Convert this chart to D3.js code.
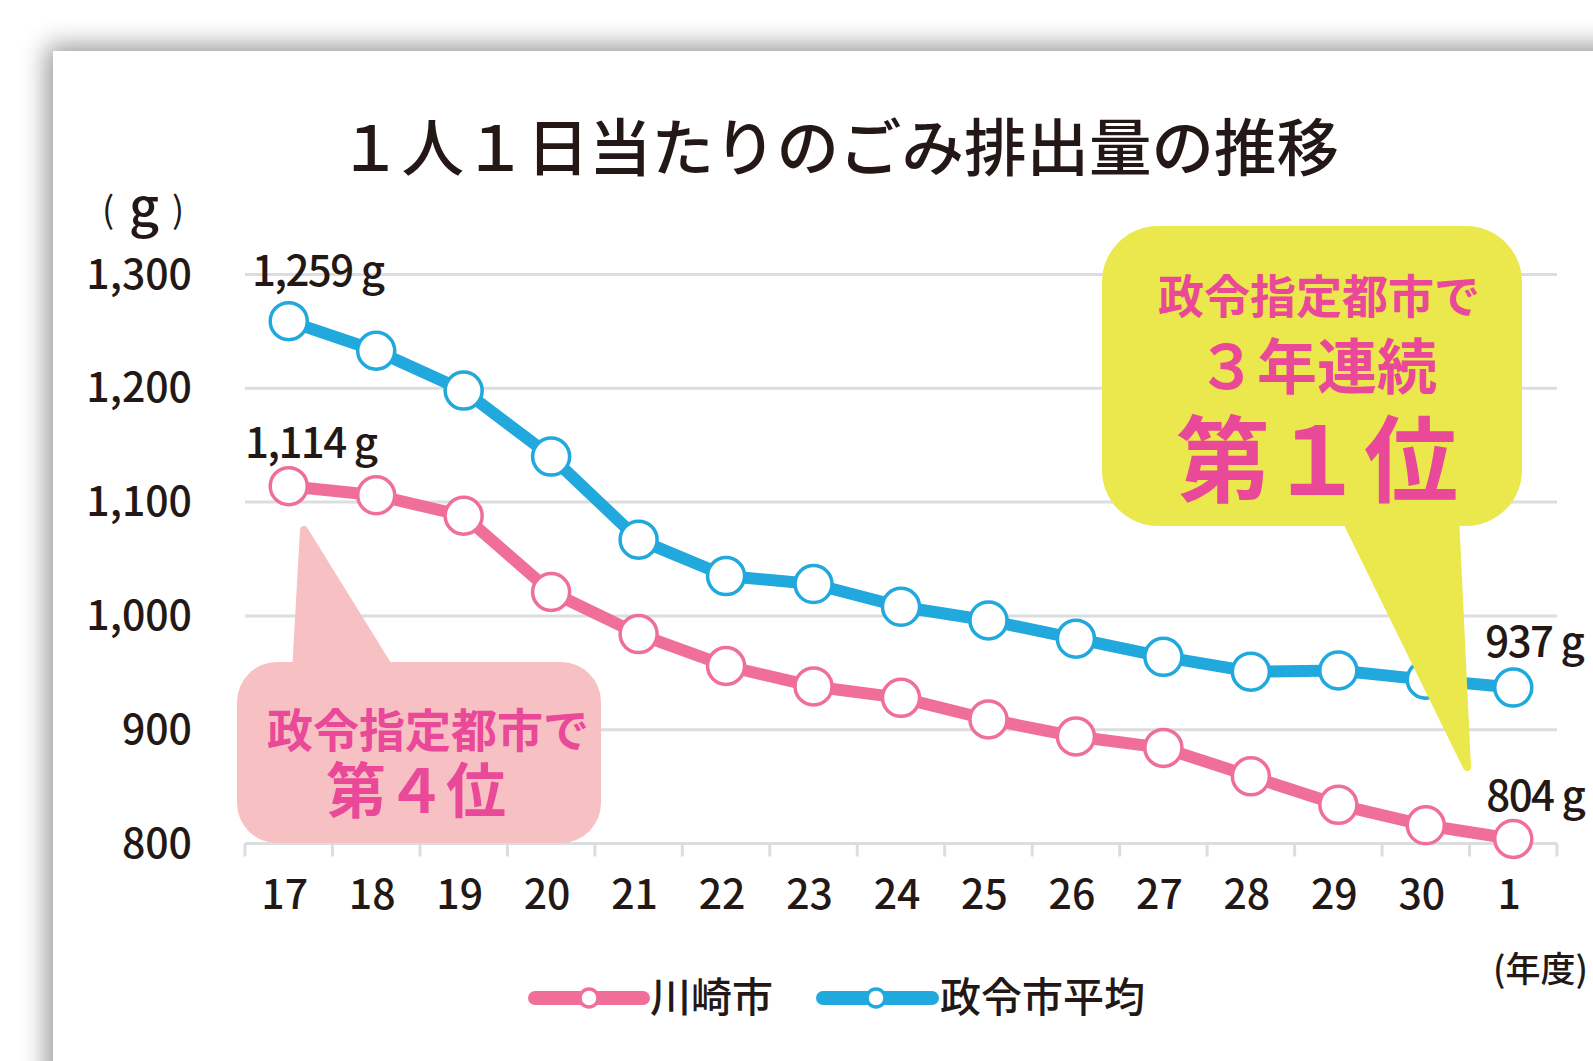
<!DOCTYPE html>
<html lang="ja">
<head>
<meta charset="UTF-8">
<title>1人1日当たりのごみ排出量の推移</title>
<script src="https://d3js.org/d3.v7.min.js"></script>
<style>
  body { margin: 0; background: #fff; overflow: hidden; }
  svg { display: block; font-family: "Noto Sans CJK JP", "Noto Sans", sans-serif; }
</style>
</head>
<body>
<svg></svg>
<script>
const years = ["17", "18", "19", "20", "21", "22", "23", "24", "25", "26", "27", "28", "29", "30", "1"];
const kawasaki = [1114, 1106, 1088, 1021, 984, 956, 938, 928, 909, 894, 884, 859, 834, 816, 804];
const cityAverage = [1259, 1233, 1198, 1140, 1067, 1035, 1028, 1008, 996, 980, 964, 951, 952, 944, 937];
const yTicks = [800, 900, 1000, 1100, 1200, 1300];
const seriesNames = ["川崎市", "政令市平均"];

const W = 1593, H = 1061;
const pink = "#f06f99", blue = "#21a8dd", grid = "#dcdddf";
const textPink = "#ea4898";
const ink = "#231815";
const nudge = -4; // Noto CJK "central" sits a little low

const svg = d3.select("svg").attr("width", W).attr("height", H);

const defs = svg.append("defs");
const f = defs.append("filter").attr("id", "shadow")
    .attr("x", "-10%").attr("y", "-10%").attr("width", "120%").attr("height", "120%");
f.append("feDropShadow").attr("dx", -6).attr("dy", -5).attr("stdDeviation", 13)
    .attr("flood-color", "#000").attr("flood-opacity", 0.42);

// card
svg.append("rect").attr("x", 53).attr("y", 51).attr("width", 1640).attr("height", 1120)
    .attr("fill", "#fff").attr("filter", "url(#shadow)");

const x = d3.scaleBand().domain(years).range([245, 1557]);
const y = d3.scaleLinear().domain([800, 1300]).range([843.5, 274.5]);

function label(g, tx, ty, size, weight, str, anchor = "middle", fill = ink) {
    return g.append("text").attr("x", tx).attr("y", ty + nudge).attr("text-anchor", anchor)
        .attr("dominant-baseline", "central").attr("font-size", size)
        .attr("font-weight", weight).attr("fill", fill).text(str);
}

// title
label(svg, 839, 147, 62.5, 500, "１人１日当たりのごみ排出量の推移");

// unit
label(svg, 108, 211, 36, 400, "(");
label(svg, 144, 207, 52, 500, "g");
label(svg, 178, 211, 36, 400, ")");

// grid
svg.append("g").selectAll("line").data(yTicks).join("line")
    .attr("x1", 245).attr("x2", 1557)
    .attr("y1", d => y(d)).attr("y2", d => y(d))
    .attr("stroke", grid).attr("stroke-width", 3);

svg.append("g").selectAll("text").data(yTicks).join("text")
    .attr("x", 192).attr("y", d => y(d) + nudge).attr("text-anchor", "end")
    .attr("dominant-baseline", "central").attr("font-size", 41).attr("font-weight", 500)
    .attr("fill", ink).text(d => d3.format(",")(d));

// x ticks at band boundaries
const bounds = years.map(d => x(d)).concat([x.range()[1]]);
svg.append("g").selectAll("line").data(bounds).join("line")
    .attr("x1", d => d).attr("x2", d => d)
    .attr("y1", y(800)).attr("y2", y(800) + 13)
    .attr("stroke", grid).attr("stroke-width", 3);

svg.append("g").selectAll("text").data(years).join("text")
    .attr("x", d => x(d) + x.bandwidth() / 2 - 4).attr("y", 896 + nudge - 1)
    .attr("text-anchor", "middle").attr("dominant-baseline", "central")
    .attr("font-size", 41).attr("font-weight", 500).attr("fill", ink).text(d => d);

label(svg, 1493, 970, 35, 500, "(年度)", "start");

// pink callout
const pc = svg.append("g").attr("fill", "#f7c1c3");
pc.append("rect").attr("x", 237).attr("y", 662).attr("width", 364).attr("height", 181).attr("rx", 40);
pc.append("path").attr("d", "M296,672 L392,672 L304,530 Z")
    .attr("stroke", "#f7c1c3").attr("stroke-width", 8).attr("stroke-linejoin", "round");
label(pc, 428, 731, 46, 700, "政令指定都市で", "middle", textPink);
label(pc, 416, 790, 60, 700, "第４位", "middle", textPink);

// lines
const cx = i => x(years[i]) + x.bandwidth() / 2;
const line = d3.line().x((d, i) => cx(i)).y(d => y(d));
[[cityAverage, blue], [kawasaki, pink]].forEach(([vals, c]) => {
    svg.append("path").datum(vals).attr("d", line).attr("fill", "none")
        .attr("stroke", c).attr("stroke-width", 12).attr("stroke-linejoin", "round");
    svg.append("g").selectAll("circle").data(vals).join("circle")
        .attr("cx", (d, i) => cx(i)).attr("cy", d => y(d))
        .attr("r", 18.5).attr("fill", "#fff").attr("stroke", c).attr("stroke-width", 3.5);
});

// value labels
const last = years.length - 1;
const labels = [
    { i: 0, v: cityAverage[0], dx: 29, dy: -50 },
    { i: 0, v: kawasaki[0], dx: 22, dy: -43 },
    { i: last, v: cityAverage[last], dx: 21, dy: -45 },
    { i: last, v: kawasaki[last], dx: 22, dy: -42 }
];
svg.append("g").selectAll("text").data(labels).join("text")
    .attr("x", d => cx(d.i) + d.dx).attr("y", d => y(d.v) + d.dy + nudge)
    .attr("text-anchor", "middle").attr("dominant-baseline", "central")
    .attr("font-size", 42).attr("font-weight", 500).attr("letter-spacing", -1.5)
    .attr("fill", ink).text(d => d3.format(",")(d.v) + " g");

// yellow callout
const yc = svg.append("g").attr("fill", "#eae84c");
yc.append("rect").attr("x", 1102).attr("y", 226).attr("width", 420).attr("height", 300).attr("rx", 56);
yc.append("path").attr("d", "M1344,516 L1455,516 L1467,767 Z")
    .attr("stroke", "#eae84c").attr("stroke-width", 8).attr("stroke-linejoin", "round");
label(yc, 1319, 297, 46, 700, "政令指定都市で", "middle", textPink);
label(yc, 1317, 366, 60, 700, "３年連続", "middle", textPink);
label(yc, 1317, 458, 94, 700, "第１位", "middle", textPink);

// legend
const legend = svg.append("g");
[[535, 643, 589, 650, pink, seriesNames[0]], [823, 932, 876, 940, blue, seriesNames[1]]]
    .forEach(([x1, x2, ccx, tx, c, name]) => {
        legend.append("line").attr("x1", x1).attr("x2", x2).attr("y1", 998).attr("y2", 998)
            .attr("stroke", c).attr("stroke-width", 14).attr("stroke-linecap", "round");
        legend.append("circle").attr("cx", ccx).attr("cy", 998).attr("r", 9)
            .attr("fill", "#fff").attr("stroke", c).attr("stroke-width", 3.5);
        label(legend, tx, 998, 41, 500, name, "start");
    });
</script>
</body>
</html>
